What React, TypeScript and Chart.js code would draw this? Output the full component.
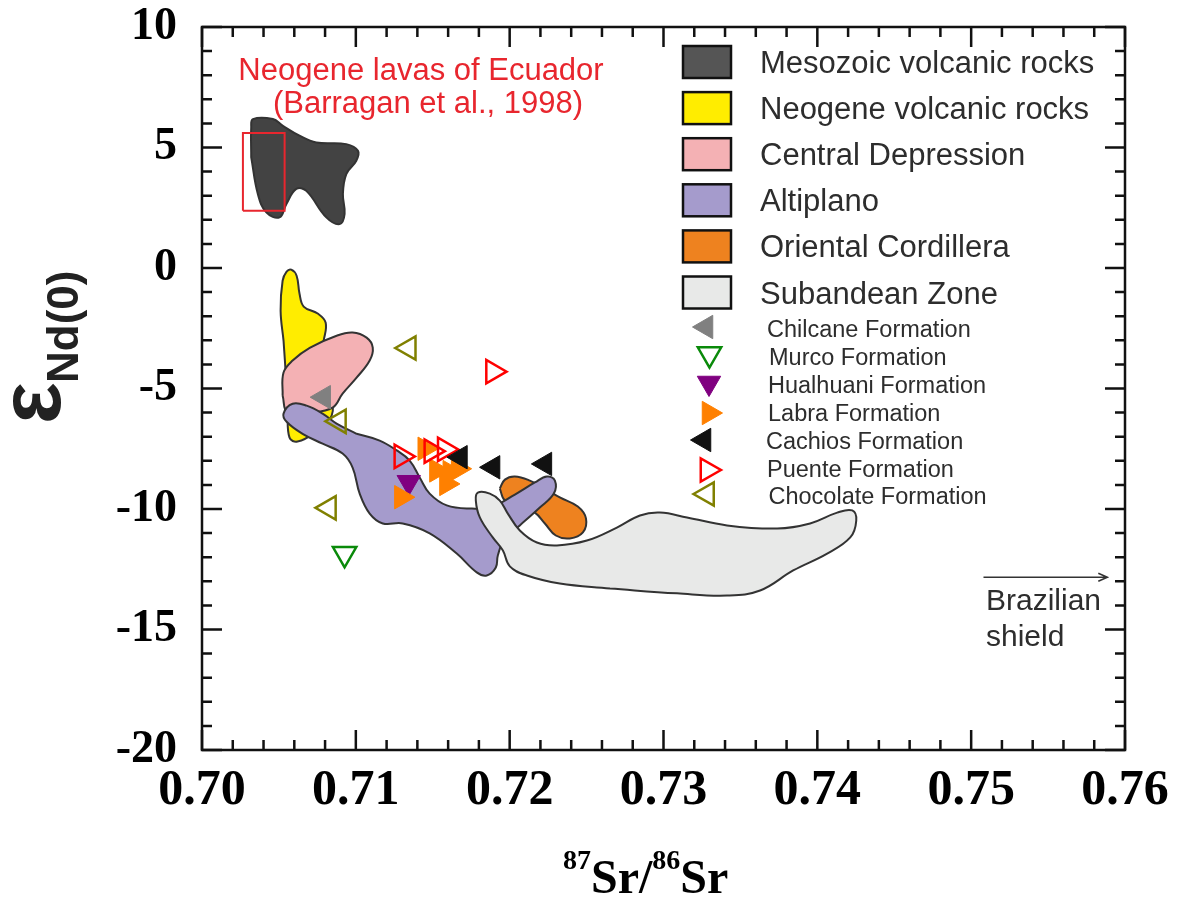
import React, { useEffect, useRef } from 'react';
import { Chart, registerables } from 'chart.js';

Chart.register(...registerables);

// ---------- axes ----------
const X_TICKS = [0.70, 0.71, 0.72, 0.73, 0.74, 0.75, 0.76];
const Y_TICKS = [-20, -15, -10, -5, 0, 5, 10];
const X_MINOR_STEP = 0.002;
const Y_MINOR_STEP = 1;

// ---------- field outlines (87Sr/86Sr, eNd) ----------
const MESOZOIC_X = [0.70320, 0.70320, 0.70331, 0.70461, 0.70526, 0.70634, 0.70743, 0.70938, 0.71014, 0.71003, 0.70938, 0.70916, 0.70927, 0.70895, 0.70808, 0.70678, 0.70613, 0.70548, 0.70504, 0.70418, 0.70363];
const MESOZOIC_Y = [4.59, 5.83, 6.18, 6.18, 5.90, 5.49, 5.21, 5.14, 4.86, 4.45, 3.90, 3.07, 2.24, 1.82, 2.10, 3.20, 3.28, 2.65, 2.10, 2.31, 3.07];

const NEOGENE_X = [0.70530, 0.70511, 0.70524, 0.70550, 0.70580, 0.70615, 0.70634, 0.70661, 0.70752, 0.70804, 0.70791, 0.70765, 0.70830, 0.70843, 0.70732, 0.70621, 0.70569, 0.70556, 0.70543];
const NEOGENE_Y = [-3.01, -1.77, -0.53, -0.15, -0.07, -0.32, -1.07, -1.60, -1.89, -2.27, -3.01, -3.84, -5.09, -6.12, -6.83, -7.20, -7.04, -5.92, -4.26];

const CENTRAL_X = [0.70524, 0.70530, 0.70589, 0.70700, 0.70875, 0.70979, 0.71070, 0.71110, 0.71090, 0.71005, 0.70914, 0.70849, 0.70700, 0.70556];
const CENTRAL_Y = [-5.29, -4.34, -3.84, -3.31, -2.81, -2.68, -2.89, -3.30, -3.84, -4.55, -5.21, -5.79, -6.00, -6.00];

const ALTIPLANO_X = [0.71005, 0.71155, 0.71266, 0.71350, 0.71415, 0.71480, 0.71591, 0.71741, 0.71884, 0.72034, 0.72164, 0.72242, 0.72294, 0.72287, 0.72196, 0.72066, 0.71968, 0.71923, 0.71910, 0.71851, 0.71786, 0.71656, 0.71480, 0.71305, 0.71175, 0.71090, 0.71025, 0.70979, 0.70914, 0.70784, 0.70654, 0.70550, 0.70530, 0.70589, 0.70680, 0.70784, 0.70875];
const ALTIPLANO_Y = [-6.88, -7.16, -7.57, -7.99, -8.69, -9.36, -9.85, -9.98, -9.90, -9.40, -8.90, -8.65, -8.82, -9.36, -9.94, -10.68, -11.22, -11.93, -12.43, -12.76, -12.63, -11.85, -11.01, -10.60, -10.60, -10.19, -9.36, -8.28, -7.70, -7.29, -6.88, -6.38, -6.04, -5.63, -5.71, -6.04, -6.46];

const ORIENTAL_X = [0.71936, 0.71969, 0.72034, 0.72131, 0.72229, 0.72326, 0.72443, 0.72496, 0.72476, 0.72391, 0.72300, 0.72229, 0.72164, 0.72066, 0.71969];
const ORIENTAL_Y = [-9.15, -8.78, -8.65, -8.82, -9.15, -9.52, -9.90, -10.39, -10.97, -11.22, -11.10, -10.60, -10.15, -9.86, -9.65];

const SUBANDEAN_X = [0.72652, 0.72326, 0.72112, 0.72001, 0.71956, 0.71890, 0.71806, 0.71780, 0.71793, 0.71871, 0.71936, 0.71988, 0.72066, 0.72177, 0.72307, 0.72502, 0.72697, 0.72847, 0.72977, 0.73153, 0.73413, 0.73739, 0.73953, 0.74129, 0.74227, 0.74253, 0.74214, 0.74064, 0.73843, 0.73628, 0.73413, 0.73088];
const SUBANDEAN_Y = [-13.30, -13.09, -12.76, -12.38, -11.72, -11.18, -10.35, -9.65, -9.32, -9.36, -9.65, -10.19, -10.89, -11.39, -11.51, -11.31, -10.77, -10.27, -10.15, -10.35, -10.68, -10.81, -10.60, -10.15, -10.06, -10.48, -11.18, -11.85, -12.55, -13.38, -13.59, -13.50];

// Neogene lavas of Ecuador box
const ECUADOR_X = [0.70266, 0.70537];
const ECUADOR_Y = [2.38, 5.60];

// ---------- formation samples ----------
const CHILCANE_X = [0.70791];
const CHILCANE_Y = [-5.36];
const MURCO_X = [0.70927];
const MURCO_Y = [-11.86];
const HUALHUANI_X = [0.71344];
const HUALHUANI_Y = [-8.89];
const LABRA_X = [0.71296, 0.71448, 0.71524, 0.71611, 0.71589, 0.71665];
const LABRA_Y = [-9.51, -7.50, -8.40, -8.47, -8.96, -8.33];
const CACHIOS_X = [0.71680, 0.71892, 0.72229];
const CACHIOS_Y = [-7.85, -8.27, -8.13];
const PUENTE_X = [0.71892, 0.71296, 0.71491, 0.71578];
const PUENTE_Y = [-4.30, -7.82, -7.60, -7.53];
const CHOCOLATE_X = [0.71344, 0.70890, 0.70825];
const CHOCOLATE_Y = [-3.32, -6.36, -9.95];

// Brazilian shield arrow
const ARROW_X = [0.75080, 0.75885];
const ARROW_Y = -12.83;

const REGION_LABELS = ['Mesozoic volcanic rocks', 'Neogene volcanic rocks', 'Central Depression', 'Altiplano', 'Oriental Cordillera', 'Subandean Zone'];
const REGION_COLORS = ['#434343', '#ffed00', '#f4b1b4', '#a59bcc', '#ee821f', '#e8e9e8'];
const SWATCH_COLORS = ['#555555', '#ffed00', '#f4b1b4', '#a59bcc', '#ee821f', '#e8e9e8'];

const FORMATION_LABELS = ['Chilcane Formation', 'Murco Formation', 'Hualhuani Formation', 'Labra Formation', 'Cachios Formation', 'Puente Formation', 'Chocolate Formation'];
const FORMATION_FILL = ['#808080', null, '#800080', '#ff8000', '#111111', null, null];
const FORMATION_STROKE = ['#808080', '#0a8a0a', '#800080', '#ff8000', '#111111', '#ff0000', '#808000'];
const FORMATION_ROT = [270, 180, 180, 90, 270, 90, 270];

const MARKER_R = 13.5;

const toPts = (xs: number[], ys: number[]) => xs.map((x, i) => ({ x, y: ys[i] }));
const closedPts = (xs: number[], ys: number[]) => {
  const p = toPts(xs, ys);
  return [...p, p[0]];
};

function regionDataset(label: string, xs: number[], ys: number[], color: string) {
  return {
    label,
    data: closedPts(xs, ys),
    showLine: true,
    fill: 'shape',
    tension: 0.4,
    backgroundColor: color,
    borderColor: '#333333',
    borderWidth: 2,
    pointRadius: 0,
    pointHoverRadius: 0,
  };
}

function markerDataset(idx: number, xs: number[], ys: number[]) {
  const fill = FORMATION_FILL[idx];
  return {
    label: FORMATION_LABELS[idx],
    data: toPts(xs, ys),
    showLine: false,
    pointStyle: 'triangle',
    pointRadius: MARKER_R,
    pointHoverRadius: MARKER_R,
    pointRotation: FORMATION_ROT[idx],
    pointBackgroundColor: fill ? fill : 'rgba(0,0,0,0)',
    pointBorderColor: FORMATION_STROKE[idx],
    pointBorderWidth: fill ? 1 : 2.5,
  };
}

function tri(ctx: CanvasRenderingContext2D, x: number, y: number, r: number, rotDeg: number, fill: string | null, stroke: string, lw: number) {
  const rad = (rotDeg * Math.PI) / 180;
  ctx.beginPath();
  for (let k = 0; k < 3; k++) {
    const a = rad + (k * 2 * Math.PI) / 3;
    const px = x + Math.sin(a) * r;
    const py = y - Math.cos(a) * r;
    if (k === 0) ctx.moveTo(px, py);
    else ctx.lineTo(px, py);
  }
  ctx.closePath();
  if (fill) {
    ctx.fillStyle = fill;
    ctx.fill();
  }
  ctx.strokeStyle = stroke;
  ctx.lineWidth = lw;
  ctx.stroke();
}

const decorPlugin = {
  id: 'decor',
  afterDraw(chart: any) {
    const ctx: CanvasRenderingContext2D = chart.ctx;
    const { left, right, top, bottom } = chart.chartArea;
    const xs = chart.scales.x;
    const ys = chart.scales.y;
    ctx.save();

    // frame
    ctx.strokeStyle = '#111';
    ctx.lineWidth = 2.5;
    ctx.strokeRect(left, top, right - left, bottom - top);

    // inner ticks
    ctx.lineWidth = 2.5;
    ctx.beginPath();
    const nx = Math.round((xs.max - xs.min) / X_MINOR_STEP);
    for (let i = 0; i <= nx; i++) {
      const px = xs.getPixelForValue(xs.min + i * X_MINOR_STEP);
      const len = i % 5 === 0 ? 20 : 10;
      ctx.moveTo(px, bottom);
      ctx.lineTo(px, bottom - len);
      ctx.moveTo(px, top);
      ctx.lineTo(px, top + len);
    }
    const ny = Math.round((ys.max - ys.min) / Y_MINOR_STEP);
    for (let i = 0; i <= ny; i++) {
      const py = ys.getPixelForValue(ys.min + i * Y_MINOR_STEP);
      const len = i % 5 === 0 ? 20 : 10;
      ctx.moveTo(left, py);
      ctx.lineTo(left + len, py);
      ctx.moveTo(right, py);
      ctx.lineTo(right - len, py);
    }
    ctx.stroke();

    // red annotation
    ctx.fillStyle = '#e8262e';
    ctx.font = "31px 'Liberation Sans'";
    ctx.textAlign = 'center';
    ctx.textBaseline = 'alphabetic';
    ctx.fillText('Neogene lavas of Ecuador', 421, 80);
    ctx.fillText('(Barragan et al., 1998)', 428, 113);

    // region legend
    ctx.textAlign = 'left';
    for (let i = 0; i < REGION_LABELS.length; i++) {
      const cy = 62 + i * 46.1;
      ctx.fillStyle = SWATCH_COLORS[i];
      ctx.fillRect(683, cy - 16, 48, 32);
      ctx.strokeStyle = '#111';
      ctx.lineWidth = 2.5;
      ctx.strokeRect(683, cy - 16, 48, 32);
      ctx.fillStyle = '#2d2d2d';
      ctx.font = "31px 'Liberation Sans'";
      ctx.fillText(REGION_LABELS[i], 760, cy + 11);
    }

    // formation legend
    const mx = [706, 709.5, 709, 709, 704, 707.5, 707];
    const my = [327, 354, 383, 413, 440, 470, 494];
    const lx = [767, 769, 768, 768, 766, 767, 768.5];
    for (let i = 0; i < FORMATION_LABELS.length; i++) {
      const fill = FORMATION_FILL[i];
      tri(ctx, mx[i], my[i], MARKER_R, FORMATION_ROT[i], fill, FORMATION_STROKE[i], fill ? 1 : 2.5);
      ctx.fillStyle = '#2d2d2d';
      ctx.font = "23.5px 'Liberation Sans'";
      ctx.fillText(FORMATION_LABELS[i], lx[i], 337 + i * 27.9);
    }

    // Brazilian shield arrow
    const ax0 = xs.getPixelForValue(ARROW_X[0]);
    const ax1 = xs.getPixelForValue(ARROW_X[1]);
    const ay = ys.getPixelForValue(ARROW_Y);
    ctx.strokeStyle = '#333';
    ctx.lineWidth = 1.6;
    ctx.beginPath();
    ctx.moveTo(ax0, ay);
    ctx.lineTo(ax1, ay);
    ctx.moveTo(ax1 - 9, ay - 4);
    ctx.lineTo(ax1, ay);
    ctx.lineTo(ax1 - 9, ay + 4);
    ctx.stroke();
    ctx.fillStyle = '#2d2d2d';
    ctx.font = "30px 'Liberation Sans'";
    ctx.fillText('Brazilian', 986, 610);
    ctx.fillText('shield', 986, 646);

    // x axis title
    ctx.fillStyle = '#000';
    let tx = 563;
    const base = 893;
    ctx.font = "bold 28px 'Liberation Serif'";
    ctx.fillText('87', tx, base - 24);
    tx += ctx.measureText('87').width;
    ctx.font = "bold 48px 'Liberation Serif'";
    ctx.fillText('Sr/', tx, base);
    tx += ctx.measureText('Sr/').width;
    ctx.font = "bold 28px 'Liberation Serif'";
    ctx.fillText('86', tx, base - 24);
    tx += ctx.measureText('86').width;
    ctx.font = "bold 48px 'Liberation Serif'";
    ctx.fillText('Sr', tx, base);

    // y axis title
    ctx.save();
    ctx.translate(60, 424);
    ctx.rotate(-Math.PI / 2);
    ctx.fillStyle = '#222';
    ctx.font = "bold 88px 'Liberation Sans'";
    ctx.fillText('ε', 0, 0);
    ctx.font = "bold 44px 'Liberation Sans'";
    ctx.fillText('Nd(0)', 41, 18);
    ctx.restore();

    ctx.restore();
  },
};

export default function App() {
  const ref = useRef<HTMLCanvasElement>(null);
  useEffect(() => {
    const canvas = ref.current;
    if (!canvas) return;
    const datasets: any[] = [
      markerDataset(0, CHILCANE_X, CHILCANE_Y),
      markerDataset(4, CACHIOS_X, CACHIOS_Y),
      markerDataset(5, PUENTE_X, PUENTE_Y),
      markerDataset(3, LABRA_X, LABRA_Y),
      markerDataset(2, HUALHUANI_X, HUALHUANI_Y),
      markerDataset(1, MURCO_X, MURCO_Y),
      markerDataset(6, CHOCOLATE_X, CHOCOLATE_Y),
      {
        label: 'Ecuador box',
        data: [
          { x: ECUADOR_X[0], y: ECUADOR_Y[0] },
          { x: ECUADOR_X[1], y: ECUADOR_Y[0] },
          { x: ECUADOR_X[1], y: ECUADOR_Y[1] },
          { x: ECUADOR_X[0], y: ECUADOR_Y[1] },
          { x: ECUADOR_X[0], y: ECUADOR_Y[0] },
        ],
        showLine: true,
        fill: false,
        tension: 0,
        borderColor: '#e8262e',
        borderWidth: 2,
        pointRadius: 0,
      },
      regionDataset(REGION_LABELS[5], SUBANDEAN_X, SUBANDEAN_Y, REGION_COLORS[5]),
      regionDataset(REGION_LABELS[3], ALTIPLANO_X, ALTIPLANO_Y, REGION_COLORS[3]),
      regionDataset(REGION_LABELS[4], ORIENTAL_X, ORIENTAL_Y, REGION_COLORS[4]),
      regionDataset(REGION_LABELS[2], CENTRAL_X, CENTRAL_Y, REGION_COLORS[2]),
      regionDataset(REGION_LABELS[1], NEOGENE_X, NEOGENE_Y, REGION_COLORS[1]),
      regionDataset(REGION_LABELS[0], MESOZOIC_X, MESOZOIC_Y, REGION_COLORS[0]),
    ];
    const chart = new Chart(canvas, {
      type: 'scatter',
      data: { datasets },
      options: {
        responsive: false,
        animation: false,
        events: [],
        devicePixelRatio: 1,
        layout: { padding: { top: 27, right: 56, left: 0, bottom: 0 } },
        plugins: { legend: { display: false }, tooltip: { enabled: false } },
        scales: {
          x: {
            type: 'linear',
            position: 'bottom',
            min: X_TICKS[0],
            max: X_TICKS[X_TICKS.length - 1],
            afterFit: (s: any) => {
              s.height = 152;
              s.paddingLeft = 0;
              s.paddingRight = 0;
              s.paddingTop = 0;
              s.paddingBottom = 0;
            },
            afterBuildTicks: (s: any) => {
              s.ticks = X_TICKS.map((v) => ({ value: v }));
            },
            grid: { display: false, drawTicks: false },
            border: { display: false },
            ticks: {
              autoSkip: false,
              maxRotation: 0,
              padding: 11,
              color: '#000',
              font: { family: 'Liberation Serif', size: 50, weight: 'bold' },
              callback: (v: any) => Number(v).toFixed(2),
            },
          },
          y: {
            type: 'linear',
            min: Y_TICKS[0],
            max: Y_TICKS[Y_TICKS.length - 1],
            afterFit: (s: any) => {
              s.width = 202;
              s.paddingTop = 0;
              s.paddingBottom = 0;
              s.paddingLeft = 0;
              s.paddingRight = 0;
            },
            afterBuildTicks: (s: any) => {
              s.ticks = Y_TICKS.map((v) => ({ value: v }));
            },
            grid: { display: false, drawTicks: false },
            border: { display: false },
            ticks: {
              autoSkip: false,
              padding: 25,
              color: '#000',
              font: { family: 'Liberation Serif', size: 46, weight: 'bold' },
              callback: (v: any) => String(v),
            },
          },
        },
      } as any,
      plugins: [decorPlugin],
    });
    return () => chart.destroy();
  }, []);
  return (
    <div style={{ position: 'absolute', left: 0, top: 0, width: 1181, height: 902 }}>
      <canvas ref={ref} width={1181} height={902} style={{ display: 'block', width: 1181, height: 902 }} />
    </div>
  );
}
